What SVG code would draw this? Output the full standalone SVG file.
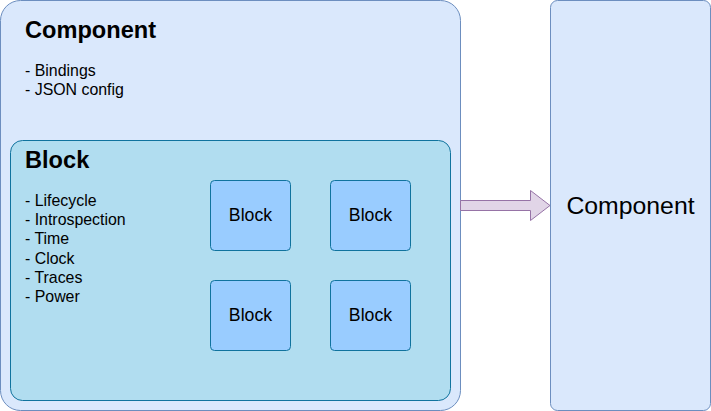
<svg xmlns="http://www.w3.org/2000/svg" width="711" height="411" viewBox="0 0 711 411">
<style>
.comp{fill:#dae8fc;stroke:#6c8ebf;stroke-width:1}
.blk{fill:#b1ddf0;stroke:#10739e;stroke-width:1}
.sb{fill:#99ccff;stroke:#10739e;stroke-width:1}
text{font-family:"Liberation Sans",Arial,sans-serif;fill:#000}
.title{font-size:23.6px;font-weight:bold}
.list{font-size:15.9px}
.lbl{font-size:17.7px;text-anchor:middle}
.big{font-size:24.8px;text-anchor:middle}
</style>
<g id="component-outer">
<rect class="comp" x="0.5" y="0.5" width="460" height="410" rx="20"/>
<text class="title" x="25" y="38">Component</text>
<text class="list" x="25" y="76">- Bindings</text>
<text class="list" x="25" y="95">- JSON config</text>
</g>
<g id="block-outer">
<rect class="blk" x="10.5" y="140.5" width="440" height="260" rx="12"/>
<text class="title" x="25" y="168">Block</text>
<text class="list" x="25" y="206">- Lifecycle</text>
<text class="list" x="25" y="225.2">- Introspection</text>
<text class="list" x="25" y="244.4">- Time</text>
<text class="list" x="25" y="263.6">- Clock</text>
<text class="list" x="25" y="282.8">- Traces</text>
<text class="list" x="25" y="302">- Power</text>
</g>
<g id="block1">
<rect class="sb" x="210.5" y="180.5" width="80" height="70" rx="4"/>
<text class="lbl" x="250.5" y="220.5">Block</text>
</g>
<g id="block2">
<rect class="sb" x="330.5" y="180.5" width="80" height="70" rx="4"/>
<text class="lbl" x="370.5" y="220.5">Block</text>
</g>
<g id="block3">
<rect class="sb" x="210.5" y="280.5" width="80" height="70" rx="4"/>
<text class="lbl" x="250.5" y="320.5">Block</text>
</g>
<g id="block4">
<rect class="sb" x="330.5" y="280.5" width="80" height="70" rx="4"/>
<text class="lbl" x="370.5" y="320.5">Block</text>
</g>
<g id="component-right">
<rect class="comp" x="550.5" y="0.5" width="160" height="410" rx="7"/>
<text class="big" x="630.5" y="214">Component</text>
</g>
<g id="connectors">
<path d="M460.5,200.5 L530.5,200.5 L530.5,190.5 L550,205.5 L530.5,220.5 L530.5,210.5 L460.5,210.5 Z" fill="#e1d5e7" stroke="#9673a6" stroke-width="1"/>
</g>
</svg>
